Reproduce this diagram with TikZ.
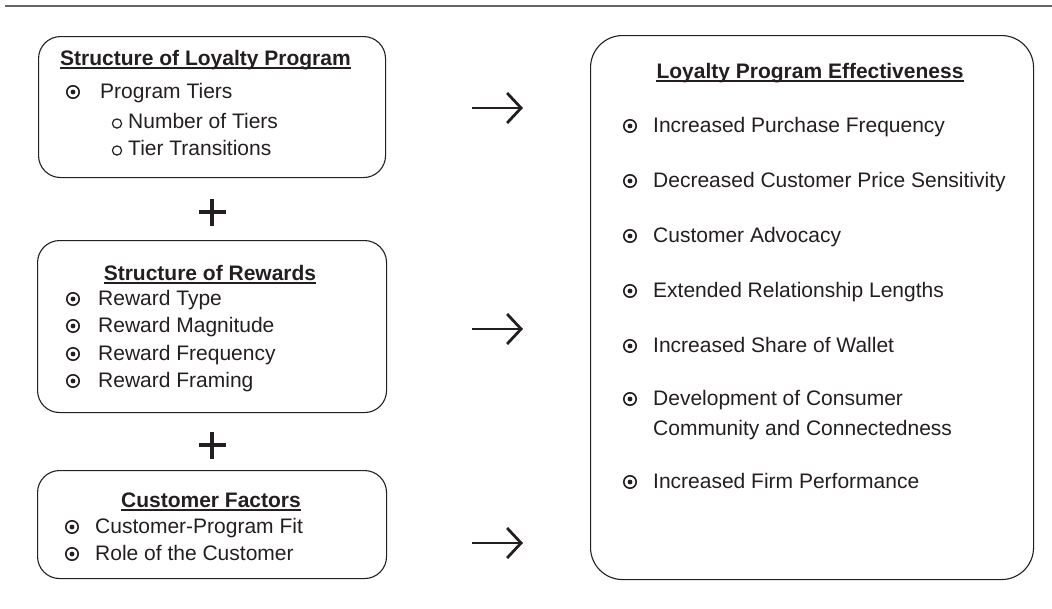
\documentclass[tikz,border=0pt]{standalone}
\usepackage{fontspec}
\setmainfont{Liberation Sans}
\usetikzlibrary{arrows.meta}
\definecolor{ink}{HTML}{231F20}
\definecolor{rulegray}{HTML}{666666}
\newcommand{\bulletdot}[2]{%
  \draw[ink, line width=1.6pt] (#1,#2) circle (6.2pt);
  \fill[ink] (#1,#2) circle (2.4pt);}
\newcommand{\subcirc}[2]{%
  \draw[ink, line width=1.2pt] (#1,#2) circle (4.6pt);}
\begin{document}
\begin{tikzpicture}[x=1pt,y=-1pt,
  box/.style={draw=ink, line width=1.1pt, anchor=north west, inner sep=0pt},
  txt/.style={anchor=base west, inner sep=0pt, text=ink, font=\fontsize{21}{25}\selectfont},
  ttl/.style={anchor=base, inner sep=0pt, text=ink, font=\fontsize{21}{25}\selectfont\bfseries},
  uline/.style={draw=ink, line width=1.5pt},
  plus/.style={draw=ink, line width=3.6pt},
  flow/.style={draw=ink, line width=2.8pt, -{Straight Barb[length=14pt,width=30pt,line width=2.8pt]}}
]
\useasboundingbox (0,0) rectangle (1052,608);
% top rule
\draw[rulegray, line width=2.6pt] (5,6) -- (1052,6);

% boxes
\node[box, rounded corners=22pt, minimum width=347pt, minimum height=141pt] (b1) at (38,36) {};
\node[box, rounded corners=22pt, minimum width=349pt, minimum height=172pt] (b2) at (37,240) {};
\node[box, rounded corners=22pt, minimum width=349pt, minimum height=108pt] (b3) at (37,470) {};
\node[box, rounded corners=32pt, minimum width=443pt, minimum height=544pt] (b4) at (590,35) {};

% box 1
\node[ttl] (t1) at (205.5,65) {Structure of Loyalty Program};
\draw[uline] ([yshift=-2.8pt]t1.base west) -- ([yshift=-2.8pt]t1.base east);
\bulletdot{73}{92}
\node[txt] (i11) at (100,98) {Program Tiers};
\subcirc{117}{123.5}
\node[txt] (i12) at (128,128) {Number of Tiers};
\subcirc{117}{150.5}
\node[txt] (i13) at (128,155) {Tier Transitions};

% box 2
\node[ttl] (t2) at (210,280) {Structure of Rewards};
\draw[uline] ([yshift=-2.8pt]t2.base west) -- ([yshift=-2.8pt]t2.base east);
\bulletdot{73}{299}
\node[txt] (i21) at (98,305) {Reward Type};
\bulletdot{73}{326}
\node[txt] (i22) at (98,332) {Reward Magnitude};
\bulletdot{73}{354}
\node[txt] (i23) at (98,360) {Reward Frequency};
\bulletdot{73}{381}
\node[txt] (i24) at (98,387) {Reward Framing};

% box 3
\node[ttl] (t3) at (211,507) {Customer Factors};
\draw[uline] ([yshift=-2.8pt]t3.base west) -- ([yshift=-2.8pt]t3.base east);
\bulletdot{72}{527}
\node[txt] (i31) at (95,533) {Customer-Program Fit};
\bulletdot{72}{554}
\node[txt] (i32) at (95,560) {Role of the Customer};

% right box
\node[ttl] (t4) at (810,78) {Loyalty Program Effectiveness};
\draw[uline] ([yshift=-2.8pt]t4.base west) -- ([yshift=-2.8pt]t4.base east);
\bulletdot{630}{126}
\node[txt] (r1) at (653,132) {Increased Purchase Frequency};
\bulletdot{630}{181}
\node[txt] (r2) at (653,187) {Decreased Customer Price Sensitivity};
\bulletdot{630}{236}
\node[txt] (r3) at (653,242) {Customer Advocacy};
\bulletdot{630}{291}
\node[txt] (r4) at (653,297) {Extended Relationship Lengths};
\bulletdot{630}{346}
\node[txt] (r5) at (653,352) {Increased Share of Wallet};
\bulletdot{630}{399}
\node[txt] (r6) at (653,405) {Development of Consumer};
\node[txt] (r6b) at (653,435) {Community and Connectedness};
\bulletdot{630}{482}
\node[txt] (r7) at (653,488) {Increased Firm Performance};

% plus signs
\draw[plus] (198.5,212) -- (225.5,212);
\draw[plus] (212,198.5) -- (212,225.5);
\draw[plus] (198.5,445) -- (225.5,445);
\draw[plus] (212,431.5) -- (212,458.5);

% arrows
\coordinate (a1s) at (472,108); \coordinate (a1e) at (523,108);
\coordinate (a2s) at (472,329); \coordinate (a2e) at (523,329);
\coordinate (a3s) at (472,543); \coordinate (a3e) at (523,543);
\draw[flow] (a1s) -- (a1e);
\draw[flow] (a2s) -- (a2e);
\draw[flow] (a3s) -- (a3e);
\end{tikzpicture}
\end{document}
